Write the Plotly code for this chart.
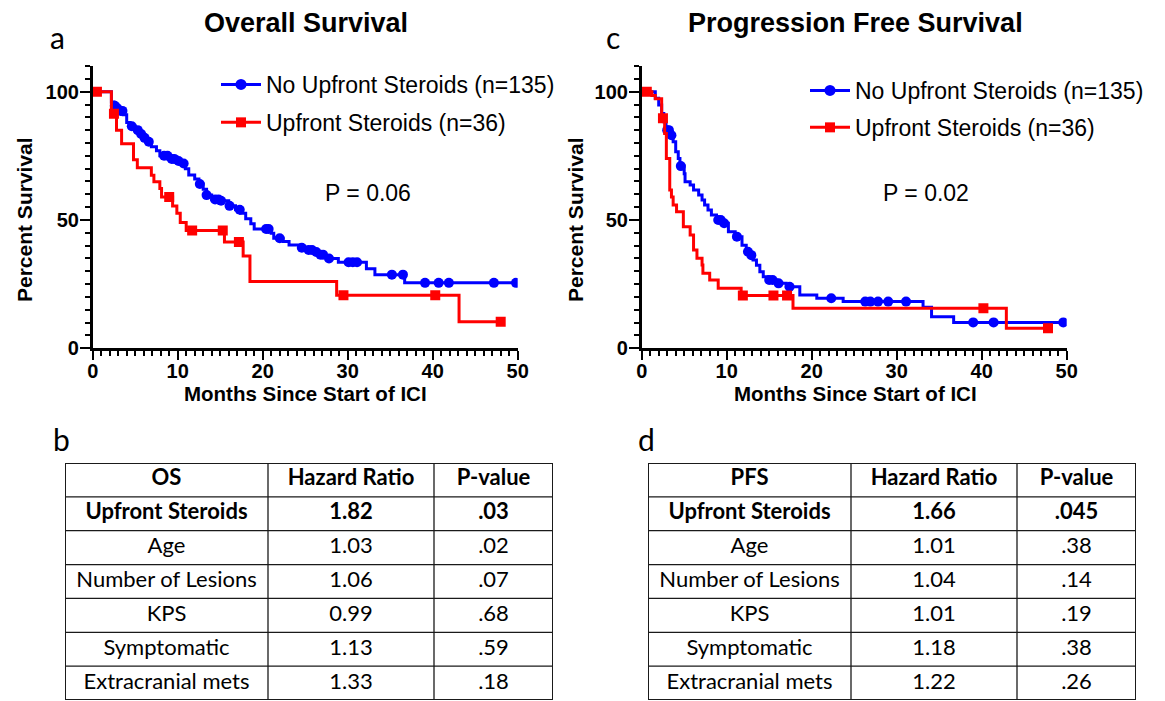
import plotly.graph_objects as go

W, H = 1165, 701

# ---------------- data ----------------
# Overall survival, No upfront steroids (n=135): step times (months) and survival (%)
os_no_t = [0, 2.2, 2.5, 2.8, 3.2, 3.6, 4.0, 4.4, 5.0, 5.4, 5.9, 6.4, 6.9, 7.5, 7.9, 9.0, 9.8,
           10.5, 10.9, 11.3, 12.0, 12.5, 13.0, 13.4, 14.0, 15.2, 16.0, 16.8, 17.4, 18.0, 18.6,
           19.0, 21.0, 21.3, 22.4, 23.1, 24.5, 25.2, 26.0, 26.7, 27.2, 27.7, 28.9, 32.2, 33.2, 36.7]
os_no_s = [100, 96.0, 94.5, 93.5, 92.5, 91.0, 88.0, 86.5, 85.0, 83.5, 82.0, 80.5, 78.5, 77.0, 75.0,
           73.8, 73.0, 72.0, 70.0, 67.5, 66.0, 64.0, 62.0, 59.7, 58.0, 57.5, 55.5, 54.0, 52.6, 50.5,
           48.5, 46.5, 44.8, 42.9, 41.6, 40.3, 39.2, 38.3, 37.5, 36.5, 35.8, 35.0, 33.5, 31.0, 28.7, 25.5]
os_no_ct = [2.6, 2.9, 3.3, 3.5, 4.6, 5.3, 5.7, 6.1, 6.6, 8.4, 8.8, 9.3, 9.6, 10.1, 10.7, 12.6,
            13.4, 14.4, 14.8, 15.1, 16.1, 17.3, 20.4, 20.7, 22.0, 24.6, 25.4, 25.8, 26.3, 26.8,
            27.1, 27.8, 30.1, 30.6, 31.1, 35.2, 36.5, 39.1, 40.7, 41.9, 47.2, 49.8]
os_no_cs = [94.5, 93.5, 92.5, 92.5, 86.5, 85.0, 83.5, 82.0, 80.5, 75.0, 75.0, 73.8, 73.8, 73.0,
            72.0, 64.0, 59.7, 58.0, 58.0, 57.5, 55.5, 54.0, 46.5, 46.5, 42.9, 39.2, 38.3, 38.3,
            37.5, 36.5, 36.5, 35.0, 33.5, 33.5, 33.5, 28.7, 28.7, 25.5, 25.5, 25.5, 25.5, 25.5]

# Overall survival, Upfront steroids (n=36)
os_up_t = [0, 2.2, 2.8, 3.4, 4.8, 5.25, 6.9, 7.2, 7.9, 8.1, 9.4, 9.9, 10.3, 11.0, 15.5, 17.7,
           18.5, 28.7, 43.1]
os_up_s = [100, 91.4, 85.0, 79.7, 73.5, 70.4, 67.4, 64.9, 62.3, 59.0, 55.4, 52.6, 49.0, 45.9,
           41.4, 36.0, 26.0, 20.7, 10.3]
os_up_ct = [0.5, 2.5, 9.0, 11.7, 15.3, 17.2, 29.5, 40.3, 48.0]
os_up_cs = [100, 91.4, 59.0, 45.9, 45.9, 41.4, 20.7, 20.7, 10.3]

# Progression free survival, No upfront steroids (n=135)
pfs_no_t = [0, 1.6, 2.0, 2.35, 2.6, 2.86, 3.4, 3.7, 4.0, 4.3, 4.5, 5.0, 5.1, 5.7, 6.1, 6.7, 7.1,
            7.4, 7.8, 8.2, 8.8, 9.5, 10.2, 11.0, 11.8, 12.3, 12.7, 13.1, 13.5, 13.9, 14.3, 14.8,
            15.9, 17.0, 18.6, 20.6, 23.7, 33.1, 34.1, 36.7]
pfs_no_s = [100, 97.4, 94.8, 91.5, 88.3, 85.0, 83.0, 80.5, 76.6, 74.0, 71.0, 68.0, 64.9, 63.6,
            61.7, 59.7, 57.8, 55.8, 53.9, 51.9, 50.0, 48.7, 45.4, 43.5, 40.2, 37.6, 36.3, 34.4,
            32.4, 29.8, 27.9, 26.6, 25.3, 24.0, 20.8, 19.5, 18.2, 16.0, 12.3, 10.1]
pfs_no_ct = [3.0, 3.2, 3.5, 4.6, 9.0, 9.3, 9.7, 11.2, 12.5, 12.9, 15.0, 15.4, 16.1, 17.4, 22.3,
             26.3, 26.9, 27.8, 29.0, 31.1, 39.0, 41.4, 49.6]
pfs_no_cs = [85.0, 85.0, 83.0, 71.0, 50.0, 50.0, 48.7, 43.5, 37.6, 36.3, 26.6, 26.6, 25.3, 24.0,
             19.5, 18.2, 18.2, 18.2, 18.2, 18.2, 10.1, 10.1, 10.1]

# Progression free survival, Upfront steroids (n=36)
pfs_up_t = [0, 1.2, 1.6, 2.35, 2.7, 2.9, 3.3, 3.5, 3.7, 4.1, 4.9, 5.7, 6.1, 6.5, 7.1, 7.2, 8.0,
            9.0, 11.7, 17.8, 42.9]
pfs_up_s = [100, 98.5, 97.2, 89.6, 83.7, 74.0, 61.7, 59.0, 55.8, 53.2, 47.4, 44.1, 38.3, 35.1,
            32.5, 29.2, 26.6, 23.4, 20.6, 15.6, 7.8]
pfs_up_ct = [0.6, 2.5, 11.9, 15.5, 17.1, 40.2, 47.8]
pfs_up_cs = [100, 89.6, 20.6, 20.6, 20.6, 15.6, 7.8]

legend_no = "No Upfront Steroids (n=135)"
legend_up = "Upfront Steroids (n=36)"
os_p = "P = 0.06"
pfs_p = "P = 0.02"

x_ticks = [0, 10, 20, 30, 40, 50]
y_ticks = [0, 50, 100]

tbl_header_os = ["OS", "Hazard Ratio", "P-value"]
tbl_header_pfs = ["PFS", "Hazard Ratio", "P-value"]
tbl_vars = ["Upfront Steroids", "Age", "Number of Lesions", "KPS", "Symptomatic", "Extracranial mets"]
os_hr = ["1.82", "1.03", "1.06", "0.99", "1.13", "1.33"]
os_pv = [".03", ".02", ".07", ".68", ".59", ".18"]
pfs_hr = ["1.66", "1.01", "1.04", "1.01", "1.18", "1.22"]
pfs_pv = [".045", ".38", ".14", ".19", ".38", ".26"]

# ---------------- styling ----------------
BLUE = "#0000ff"
RED = "#ff0000"
FONT = "Liberation Sans, Arial, sans-serif"
TFONT = "Lato, sans-serif"
col_widths = [203, 166, 119]


def px(x):
    return x / W


def py(y):
    return 1 - y / H


fig = go.Figure()


def add_km(t, s, ct, cs, color, symbol, xa, ya, msize):
    end = max(ct[-1], t[-1])
    fig.add_trace(go.Scatter(x=t + [end], y=s + [s[-1]], mode="lines", line=dict(color=color, width=3, shape="hv"),
                             showlegend=False, xaxis=xa, yaxis=ya, hoverinfo="skip"))
    fig.add_trace(go.Scatter(x=ct, y=cs, mode="markers", marker=dict(color=color, symbol=symbol, size=msize),
                             showlegend=False, xaxis=xa, yaxis=ya))


add_km(os_no_t, os_no_s, os_no_ct, os_no_cs, BLUE, "circle", "x", "y", 10)
add_km(os_up_t, os_up_s, os_up_ct, os_up_cs, RED, "square", "x", "y", 10)
add_km(pfs_no_t, pfs_no_s, pfs_no_ct, pfs_no_cs, BLUE, "circle", "x2", "y2", 10)
add_km(pfs_up_t, pfs_up_s, pfs_up_ct, pfs_up_cs, RED, "square", "x2", "y2", 10)

# legend-only entries
for lg, xa, ya in [("legend", "x", "y"), ("legend2", "x2", "y2")]:
    fig.add_trace(go.Scatter(x=[None], y=[None], mode="lines+markers", name=legend_no,
                             line=dict(color=BLUE, width=3), marker=dict(symbol="circle", size=11, color=BLUE),
                             legend=lg, legendgroup=lg + "a", xaxis=xa, yaxis=ya))
    fig.add_trace(go.Scatter(x=[None], y=[None], mode="lines+markers", name=legend_up,
                             line=dict(color=RED, width=3), marker=dict(symbol="square", size=10, color=RED),
                             legend=lg, legendgroup=lg + "b", xaxis=xa, yaxis=ya))


def bold(v):
    return "<b>" + v + "</b>"


# tables drawn on their own hidden axes
edges = [0]
for w in col_widths:
    edges.append(edges[-1] + w)
n_rows = len(tbl_vars) + 1
table_axes = {}
for i, (hdr, hr, pv, x0, x1) in enumerate([(tbl_header_os, os_hr, os_pv, 65, 553),
                                           (tbl_header_pfs, pfs_hr, pfs_pv, 648, 1136)]):
    xa, ya = "x%d" % (3 + i), "y%d" % (3 + i)
    table_axes["xaxis%d" % (3 + i)] = dict(domain=[px(x0), px(x1)], range=[0, edges[-1]], visible=False,
                                           anchor=ya, fixedrange=True)
    table_axes["yaxis%d" % (3 + i)] = dict(domain=[py(700), py(463)], range=[n_rows, 0], visible=False,
                                           anchor=xa, fixedrange=True)
    cols = [[bold(hdr[0]), bold(tbl_vars[0])] + tbl_vars[1:],
            [bold(hdr[1]), bold(hr[0])] + hr[1:],
            [bold(hdr[2]), bold(pv[0])] + pv[1:]]
    xs, ys, txt = [], [], []
    for c, col in enumerate(cols):
        for r, v in enumerate(col):
            xs.append((edges[c] + edges[c + 1]) / 2)
            ys.append(r + 0.5)
            txt.append(v)
    fig.add_trace(go.Scatter(x=xs, y=ys, text=txt, mode="text", textposition="middle center",
                             textfont=dict(family=TFONT, size=22, color="black"),
                             showlegend=False, hoverinfo="skip", xaxis=xa, yaxis=ya))
    for r in range(n_rows + 1):
        fig.add_shape(type="line", xref=xa, yref=ya, x0=0, x1=edges[-1], y0=r, y1=r,
                      line=dict(color="#1a1a1a", width=2 if r in (0, n_rows) else 1.3))
    for c, e in enumerate(edges):
        fig.add_shape(type="line", xref=xa, yref=ya, x0=e, x1=e, y0=0, y1=n_rows,
                      line=dict(color="#1a1a1a", width=2 if c in (0, len(edges) - 1) else 1.3))

axis_common = dict(showline=True, linewidth=2.5, linecolor="black", ticks="outside",
                   tickwidth=2, tickcolor="black", showgrid=False, zeroline=False,
                   tickfont=dict(family=FONT, size=20, color="black", weight="bold"))
xminor = dict(dtick=1, ticklen=5, tickwidth=1.5, tickcolor="black", ticks="outside")
yminor = dict(dtick=5, ticklen=5, tickwidth=1.5, tickcolor="black", ticks="outside")

fig.update_layout(
    autosize=True, margin=dict(l=0, r=0, t=0, b=0, autoexpand=False),
    paper_bgcolor="white", plot_bgcolor="white",
    font=dict(family=FONT, color="black"),
    xaxis=dict(domain=[px(92.7), px(517.7)], range=[0, 50], anchor="y", tickvals=x_ticks, ticklen=9,
               minor=xminor, ticklabelstandoff=-6, **axis_common),
    yaxis=dict(domain=[py(348.3), py(66)], range=[0, 110], anchor="x", tickvals=y_ticks, ticklen=10,
               minor=yminor, ticklabelstandoff=-3, **axis_common),
    xaxis2=dict(domain=[px(641.7), px(1066.7)], range=[0, 50], anchor="y2", tickvals=x_ticks, ticklen=9,
                minor=xminor, ticklabelstandoff=-6, **axis_common),
    yaxis2=dict(domain=[py(348.3), py(66)], range=[0, 110], anchor="x2", tickvals=y_ticks, ticklen=10,
                minor=yminor, ticklabelstandoff=-3, **axis_common),
    legend=dict(x=px(216), y=py(63), xanchor="left", yanchor="top", bgcolor="rgba(0,0,0,0)",
                font=dict(family=FONT, size=23, color="black"), tracegroupgap=5, itemwidth=40),
    legend2=dict(x=px(805), y=py(69), xanchor="left", yanchor="top", bgcolor="rgba(0,0,0,0)",
                 font=dict(family=FONT, size=23, color="black"), tracegroupgap=4, itemwidth=40),
    **table_axes,
)


def ann(text, x, y, size, bold_=False, angle=0, family=FONT):
    fig.add_annotation(text=text, x=px(x), y=py(y), xref="paper", yref="paper", showarrow=False,
                       xanchor="center", yanchor="middle", textangle=angle, borderpad=0,
                       font=dict(family=family, size=size, color="black", weight="bold" if bold_ else "normal"))


ann("Overall Survival", 306, 23, 27, True)
ann("Progression Free Survival", 855, 23, 27, True)
ann("a", 57, 37, 30, family=TFONT)
ann("c", 613, 37, 30, family=TFONT)
ann("b", 61, 439, 30, family=TFONT)
ann("d", 646, 439, 30, family=TFONT)
ann(os_p, 368, 193, 23)
ann(pfs_p, 926, 193, 23)
ann("Percent Survival", 25, 220, 21, True, -90)
ann("Percent Survival", 576, 220, 21, True, -90)
ann("Months Since Start of ICI", 305, 393, 20.5, True)
ann("Months Since Start of ICI", 855, 393, 20.5, True)

post = """
var de=document.documentElement, b=document.body;
de.style.margin='0'; de.style.padding='0'; de.style.height='100%'; de.style.overflow='hidden';
b.style.margin='0'; b.style.padding='0'; b.style.height='100%'; b.style.overflow='hidden';
var gd=document.getElementById('{plot_id}');
gd.parentElement.style.height='100%'; gd.parentElement.style.width='100%';
gd.style.height='100%'; gd.style.width='100%';
Plotly.Plots.resize(gd);
"""

fig.write_html("out.html", config={"displayModeBar": False, "responsive": True},
               default_width="100%", default_height="100%", post_script=post)
